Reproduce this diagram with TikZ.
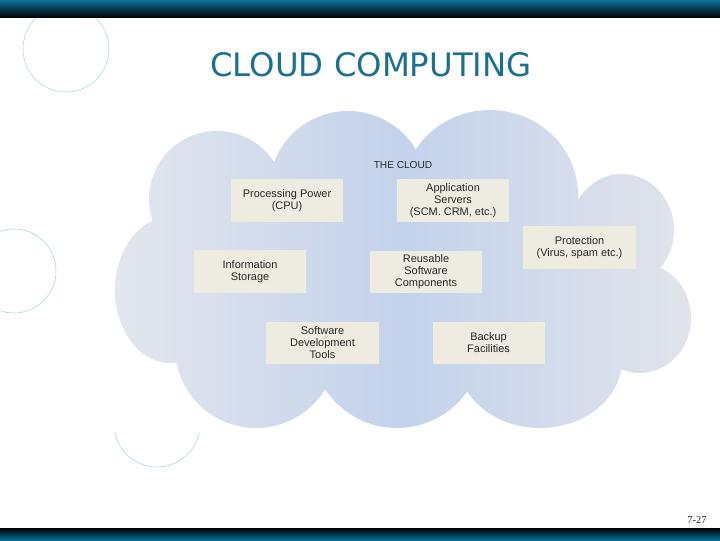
\documentclass[tikz,border=0pt]{standalone}
\usepackage{fontspec}
\setmainfont{Liberation Sans}
\newfontfamily\titlefont{DejaVu Sans}
\newfontfamily\pagefont{Liberation Serif}
\usetikzlibrary{positioning}
\definecolor{barblue}{RGB}{10,112,152}
\definecolor{titleblue}{RGB}{28,112,143}
\definecolor{ringblue}{RGB}{170,213,226}
\definecolor{cloudedge}{RGB}{227,230,237}
\definecolor{cloudmid}{RGB}{195,210,236}
\definecolor{cloudside}{RGB}{225,228,234}
\definecolor{boxfill}{RGB}{238,236,225}
\definecolor{boxtext}{RGB}{40,40,40}

\begin{document}
\begin{tikzpicture}[x=0.025cm, y=0.025cm, node distance=4.15cm,
		service/.style={fill=boxfill, minimum width=2.8cm, minimum height=1.05cm, inner sep=0pt, align=center, text=boxtext, font=\fontsize{7.8}{8.5}\selectfont},
		ring/.style={draw=ringblue, line width=0.4pt}]
				\useasboundingbox (0,0) rectangle (720,540);
				\fill[white] (0,0) rectangle (720,540);
				\draw[ring] (66,491) circle (43);
				\draw[ring] (14,269) circle (42);
				\draw[ring] (157,116) ++(191:43) arc (191:349:43);
				\begin{scope}
					\clip (217,341) circle (68) (348,350) circle (79) (490,345) ellipse (88 and 85)
						(622,310) ellipse (52 and 56) (640,222) ellipse (51 and 55) (540,180) ellipse (82 and 68)
						(397,198) circle (86) (256,193) circle (81) (170,250) ellipse (55 and 73)
						(156,318) -- (188,183) -- (326,155) -- (468,155) -- (618,176) -- (658,272) -- (577,342) -- (418,385) -- (274,373) -- cycle;
					\shade[left color=cloudedge, right color=cloudside, middle color=cloudmid] (114,110) rectangle (692,432);
				\end{scope}
				\shade[top color=barblue, bottom color=black] (0,522) rectangle (720,540);
				\shade[top color=black, bottom color=barblue] (0,0) rectangle (720,12);
				\node[text=titleblue, font=\titlefont\fontsize{23}{23}\selectfont] (title) at (371,475) {CLOUD COMPUTING};
				\node[text=boxtext, font=\fontsize{7.2}{8}\selectfont] (cloud) at (403,375) {THE CLOUD};
				\node[service] (processing) at (287,339.5) {Processing Power\\(CPU)};
				\node[service, right of=processing] (servers) {Application\\Servers\\(SCM. CRM, etc.)};
				\node[service] (storage) at (250,268.5) {Information\\Storage};
				\node[service] (reusable) at (426,268) {Reusable\\Software\\Components};
				\node[service] (protection) at (579.5,292.5) {Protection\\(Virus, spam etc.)};
				\node[service] (devtools) at (322.5,197) {Software\\Development\\Tools};
				\node[service, right of=devtools] (backup) {Backup\\Facilities};
				\node[text=boxtext, font=\pagefont\fontsize{7.5}{8}\selectfont] (page) at (697,20) {7-27};
			\end{tikzpicture}
\end{document}
